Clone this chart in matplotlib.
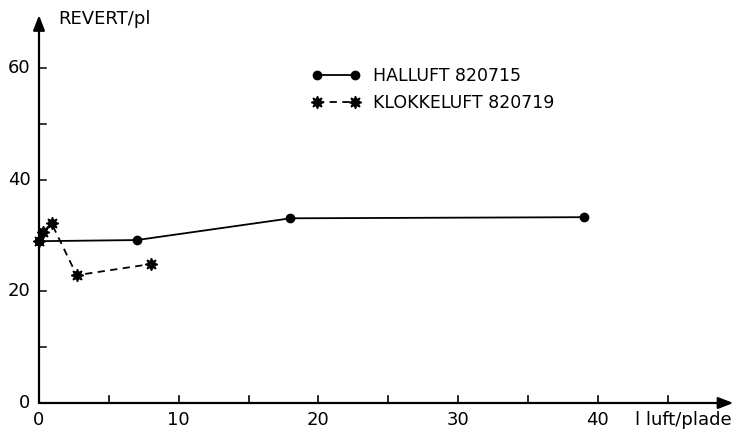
import numpy as np
import matplotlib.pyplot as plt

# air volume per plate (l) and revertant counts per plate
hal_x = [0, 7, 18, 39]
hal_y = [29, 29.2, 33.1, 33.3]
klo_x = [0, 0.3, 0.9, 2.7, 8]
klo_y = [29, 30.7, 32.2, 22.9, 24.9]

x_major = [0, 10, 20, 30, 40]
x_minor = [5, 15, 25, 35, 45]
y_major = [0, 20, 40, 60]
y_minor = [10, 30, 50]

plt.rcParams['font.family'] = ['DejaVu Sans']

W, H = 736, 430
fig = plt.figure(figsize=(W / 100, H / 100), dpi=100)
# axes placed so that 0,0 sits at the origin of the arrows
ax = fig.add_axes([39 / W, 27 / H, (49.5 * 13.97) / W, (68.6 * 5.58) / H])
ax.set_xlim(0, 49.5)
ax.set_ylim(0, 68.6)
ax.axis('off')

# axes drawn as arrows
ax.annotate('', xy=(49.7, 0), xytext=(0, 0), annotation_clip=False,
            arrowprops=dict(arrowstyle='-|>,head_length=0.9,head_width=0.35',
                            color='black', lw=1.6, shrinkA=0, shrinkB=0))
ax.annotate('', xy=(0, 69.5), xytext=(0, 0), annotation_clip=False,
            arrowprops=dict(arrowstyle='-|>,head_length=0.9,head_width=0.35',
                            color='black', lw=1.6, shrinkA=0, shrinkB=0))

for t in x_major + x_minor:
    ax.plot([t, t], [0, 1.2], color='black', lw=1.2)
for t in y_major + y_minor:
    ax.plot([0, 0.5], [t, t], color='black', lw=1.1)

for t in x_major:
    ax.text(t, -1.5, str(t), ha='center', va='top', fontsize=13)
for t in y_major:
    ax.text(-0.6, t, str(t), ha='right', va='center', fontsize=13)

ax.text(1.4, 68.8, 'REVERT/pl', ha='left', va='center', fontsize=13)
ax.text(49.6, -1.5, 'l luft/plade', ha='right', va='top', fontsize=13)

ax.plot(hal_x, hal_y, color='black', lw=1.3, marker='o', markersize=6,
        label='HALLUFT 820715', clip_on=False)
ax.plot(klo_x, klo_y, color='black', lw=1.3, ls=(0, (4, 3)), marker=(8, 1, 0),
        markersize=9, label='KLOKKELUFT 820719', clip_on=False)

ax.legend(loc='upper left', bbox_to_anchor=(312 / W, 1 - 67 / H),
          bbox_transform=fig.transFigure, frameon=False, fontsize=12.5,
          numpoints=2, handlelength=2.8, handletextpad=0.7, labelspacing=0.5,
          borderaxespad=0, borderpad=0)

fig.savefig('out.png', dpi=100)
